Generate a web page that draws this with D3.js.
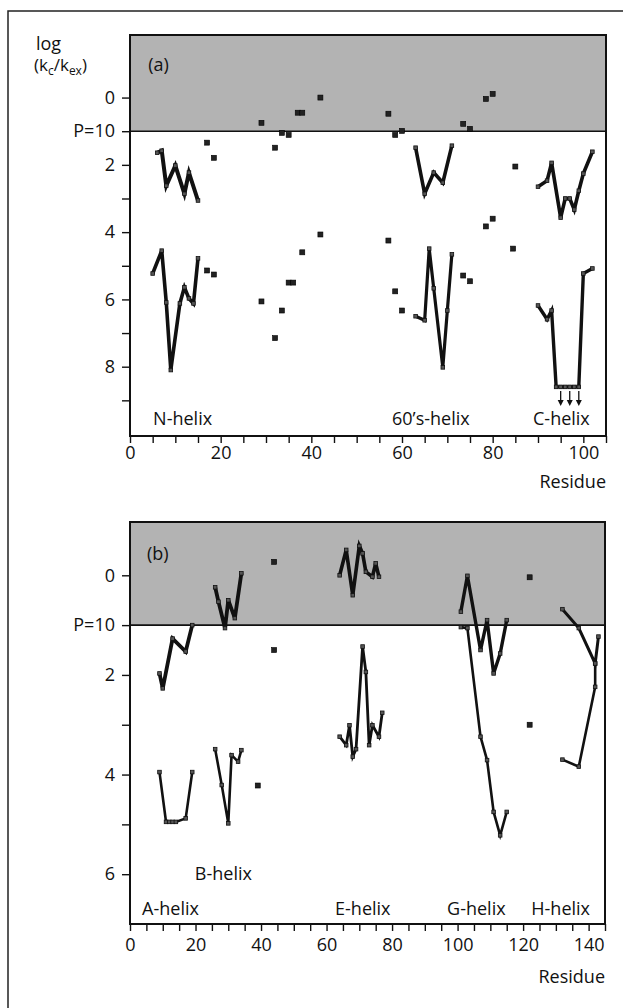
<!DOCTYPE html>
<html>
<head>
<meta charset="utf-8">
<script src="https://cdn.jsdelivr.net/npm/d3@7"></script>
<style>
  body { margin: 0; background: #fff; }
  text { font-family: "Open Sans", Lato, sans-serif; fill: #111; }
</style>
</head>
<body>
<svg id="fig" width="623" height="1008"></svg>
<script>

// ---- panel (a) data : [residue, log(kc/kex)] ----
var aNUpper   = [[6,1.64],[7,1.58],[8,2.62],[10,2.02],[12,2.86],[13,2.23],[15,3.06]];
var aNLower   = [[5,5.23],[7,4.55],[8,6.09],[9,8.1],[11,6.12],[12,5.64],[13,5.97],[14,6.12],[15,4.78]];
var a60Upper  = [[63,1.49],[65,2.86],[67,2.23],[69,2.53],[71,1.43]];
var a60Lower  = [[63,6.5],[65,6.62],[66,4.49],[67,5.67],[69,8.02],[70,6.33],[71,4.66]];
var aCUpper   = [[90,2.65],[92,2.47],[93,1.94],[95,3.57],[96,3.0],[97,3.0],[98,3.33],[99,2.77],[100,2.26],[102,1.61]];
var aCLower   = [[90,6.18],[92,6.59],[93,6.33],[94,8.6],[95,8.6],[96,8.6],[97,8.6],[98,8.6],[99,8.6],[100,5.23],[102,5.08]];
var aArrows   = [95, 97, 99];   // lower limits
var aPoints   = [[17,1.34],[18.5,1.79],[29,0.75],[32,1.49],[33.5,1.05],[35,1.11],[37,0.45],[38,0.45],[42,0.0],
                 [57,0.48],[58.5,1.11],[60,0.99],[73.5,0.78],[75,0.93],[78.5,0.04],[80,-0.11],
                 [17,5.14],[18.5,5.26],[29,6.06],[32,7.15],[33.5,6.33],[35,5.5],[36,5.5],[38,4.6],[42,4.07],
                 [57,4.25],[58.5,5.76],[60,6.33],[73.5,5.29],[75,5.46],[78.5,3.83],[80,3.6],[85,2.05],[84.5,4.49]];

// ---- panel (b) data ----
var bAUpper = [[9,1.97],[10,2.27],[13,1.27],[17,1.53],[19,1.0]];
var bALower = [[9,3.95],[11,4.95],[12,4.95],[13,4.95],[14,4.95],[17,4.88],[19,3.95]];
var bBUpper = [[26,0.24],[27,0.53],[29,1.06],[30,0.5],[32,0.86],[34,-0.04]];
var bBLower = [[26,3.49],[28,4.21],[30,4.98],[31,3.61],[33,3.74],[34,3.51]];
var bEUpper = [[64,0.0],[66,-0.51],[68,0.4],[70,-0.59],[71,-0.44],[72,-0.07],[74,0.03],[75,-0.24],[76,0.03]];
var bELower = [[64,3.24],[66,3.41],[67,3.01],[68,3.64],[69,3.49],[71,1.43],[72,1.94],[73,3.41],[74,3.01],[76,3.24],[77,2.76]];
var bGUpper = [[101,0.73],[103,0.01],[107,1.5],[109,0.9],[111,1.97],[113,1.57],[115,0.9]];
var bGLower = [[101,1.04],[103,1.06],[107,3.24],[109,3.71],[111,4.75],[113,5.22],[115,4.75]];
var bHUpper = [[132,0.68],[137,1.06],[142,1.77],[143,1.23]];
var bHLower = [[132,3.7],[137,3.84],[142,2.24],[142,1.77]];
var bPoints = [[44,-0.27],[44,1.5],[39,4.22],[122,0.04],[122,3.0]];

var xTicksA = d3.range(0, 106, 5);
var xTicksB = d3.range(0, 146, 5);
var yTicksA = [0,1,2,3,4,5,6,7,8,9];
var yTicksB = [0,1,2,3,4,5,6];

var svg = d3.select("#fig");

// outer figure frame
svg.append("path")
  .attr("d", "M8,1008 V11 H623")
  .attr("fill", "none").attr("stroke", "#222").attr("stroke-width", 1.5);

// y title
svg.append("text").attr("x", 36).attr("y", 50).style("font-size", "18px").text("log");
var yt = svg.append("text").attr("x", 34).attr("y", 71).style("font-size", "17px");
yt.append("tspan").text("(k");
yt.append("tspan").attr("dy", 4).style("font-size", "12px").text("c");
yt.append("tspan").attr("dy", -4).text("/k");
yt.append("tspan").attr("dy", 4).style("font-size", "12px").text("ex");
yt.append("tspan").attr("dy", -4).text(")");

var drawPanel = function( p ) {
  var x = d3.scaleLinear().domain( p.xDomain ).range( [ 130, p.right ] );
  var y = d3.scaleLinear().domain( p.yDomain ).range( [ p.top, p.bottom ] );
  var g = svg.append("g");

  // shaded zone above P=10
  g.append("rect")
    .attr("x", x(p.xDomain[0])).attr("y", y(p.yDomain[0]))
    .attr("width", x(p.xDomain[1]) - x(p.xDomain[0]))
    .attr("height", y(1) - y(p.yDomain[0]))
    .attr("fill", "#b3b3b3");
  g.append("line")
    .attr("x1", x(p.xDomain[0])).attr("x2", x(p.xDomain[1]))
    .attr("y1", y(1)).attr("y2", y(1))
    .attr("stroke", "#111").attr("stroke-width", 1.6);

  // axes
  var ya = g.append("g")
    .attr("transform", "translate(" + x(p.xDomain[0]) + ",0)")
    .call( d3.axisLeft(y).tickValues(p.yTicks).tickSize(8).tickSizeOuter(0).tickPadding(7)
      .tickFormat(function(v) { return v == 1 ? "P=10" : (v % 2 == 0 ? v : ""); }) );
  var xa = g.append("g")
    .attr("transform", "translate(0," + y(p.yDomain[1]) + ")")
    .call( d3.axisBottom(x).tickValues(p.xTicks).tickSize(7).tickSizeOuter(0).tickPadding(p.xPad)
      .tickFormat(function(v) { return v % 20 == 0 ? v : ""; }) );
  [ya, xa].forEach(function(a) {
    a.select(".domain").remove();
    a.selectAll("line").attr("stroke", "#111").attr("stroke-width", 1.4);
    a.selectAll("text").style("font-size", "18px").attr("fill", "#111")
      .style("font-family", "'Open Sans', Lato, sans-serif");
  });

  // frame
  g.append("rect")
    .attr("x", x(p.xDomain[0])).attr("y", y(p.yDomain[0]))
    .attr("width", x(p.xDomain[1]) - x(p.xDomain[0]))
    .attr("height", y(p.yDomain[1]) - y(p.yDomain[0]))
    .attr("fill", "none").attr("stroke", "#111").attr("stroke-width", 2);

  var line = d3.line().x(function(d) { return x(d[0]); }).y(function(d) { return y(d[1]); });

  p.lines.forEach(function(l) {
    g.append("path").datum(l.pts)
      .attr("d", line)
      .attr("fill", "none").attr("stroke", "#111")
      .attr("stroke-width", l.w).attr("stroke-linejoin", "miter");
    g.selectAll(null).data(l.pts).enter().append("rect")
      .attr("x", function(d) { return x(d[0]) - 1.8; })
      .attr("y", function(d) { return y(d[1]) - 1.8; })
      .attr("width", 3.6).attr("height", 3.6)
      .attr("fill", "#555").attr("stroke", "#111").attr("stroke-width", 0.8);
  });

  g.selectAll(null).data(p.points).enter().append("rect")
    .attr("x", function(d) { return x(d[0]) - 2.5; })
    .attr("y", function(d) { return y(d[1]) - 2.5; })
    .attr("width", 5).attr("height", 5)
    .attr("fill", "#222").attr("stroke", "#000").attr("stroke-width", 0.6);

  (p.arrows || []).forEach(function(r) {
    var ax = x(r), y0 = y(p.arrowFrom), y1 = y(p.arrowFrom + 0.42);
    g.append("line").attr("x1", ax).attr("x2", ax).attr("y1", y0).attr("y2", y1 - 3)
      .attr("stroke", "#111").attr("stroke-width", 1.3);
    g.append("path")
      .attr("d", "M" + (ax - 3) + "," + (y1 - 5) + " L" + (ax + 3) + "," + (y1 - 5) + " L" + ax + "," + (y1 + 1) + " Z")
      .attr("fill", "#111");
  });

  p.labels.forEach(function(t) {
    g.append("text").attr("x", x(t.r)).attr("y", y(t.v))
      .style("font-size", "18px").text(t.text);
  });
  g.append("text")
    .attr("x", x(p.xDomain[1])).attr("y", y(p.yDomain[1]) + p.resDy)
    .attr("text-anchor", "end").style("font-size", "18px").text("Residue");
};

drawPanel({
  xDomain: [0, 105], yDomain: [-1.86, 10.06], top: 35, bottom: 436, right: 606,
  xTicks: xTicksA, yTicks: yTicksA, xPad: 3, resDy: 52,
  lines: [
    { pts: aNUpper, w: 4 }, { pts: aNLower, w: 3.6 },
    { pts: a60Upper, w: 3.6 }, { pts: a60Lower, w: 3.2 },
    { pts: aCUpper, w: 3.6 }, { pts: aCLower, w: 3.4 }
  ],
  points: aPoints,
  arrows: aArrows, arrowFrom: 8.72,
  labels: [
    { r: 5.1, v: 9.74, text: "N-helix" },
    { r: 57.8, v: 9.74, text: "60\u2019s-helix" },
    { r: 88.9, v: 9.74, text: "C-helix" },
    { r: 4, v: -0.8, text: "(a)" }
  ]
});

drawPanel({
  xDomain: [0, 145], yDomain: [-1.07, 7.0], top: 522, bottom: 924, right: 605,
  xTicks: xTicksB, yTicks: yTicksB, xPad: 7, resDy: 59,
  lines: [
    { pts: bAUpper, w: 3.8 }, { pts: bALower, w: 2.6 },
    { pts: bBUpper, w: 3.8 }, { pts: bBLower, w: 2.6 },
    { pts: bEUpper, w: 3.6 }, { pts: bELower, w: 2.8 },
    { pts: bGUpper, w: 3.4 }, { pts: bGLower, w: 2.6 },
    { pts: bHUpper, w: 3.0 }, { pts: bHLower, w: 2.6 }
  ],
  points: bPoints,
  labels: [
    { r: 3.7, v: 6.82, text: "A-helix" },
    { r: 19.8, v: 6.12, text: "B-helix" },
    { r: 62.6, v: 6.82, text: "E-helix" },
    { r: 96.8, v: 6.82, text: "G-helix" },
    { r: 122.5, v: 6.82, text: "H-helix" },
    { r: 5.2, v: -0.31, text: "(b)" }
  ]
});

</script>
</body>
</html>
